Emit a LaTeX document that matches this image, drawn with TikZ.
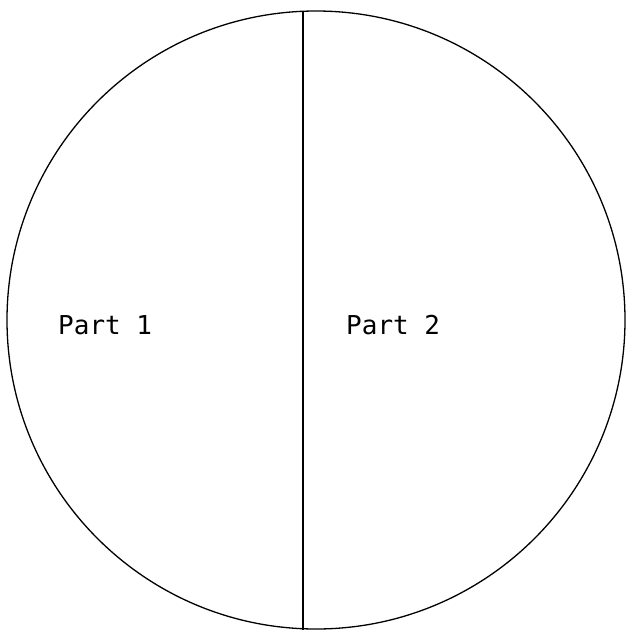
\documentclass[tikz,border=0pt]{standalone}
\usepackage{fontspec}
\newfontfamily\monofont{DejaVu Sans Mono}
\begin{document}
\begin{tikzpicture}[x=1pt,y=-1pt,
  rim/.style={draw=black,line width=1.3pt},
  divider/.style={draw=black,line width=2.6pt},
  partlabel/.style={inner sep=0pt,anchor=base west,font=\monofont\fontsize{26}{30}\selectfont}]
\useasboundingbox (0,0) rectangle (626,630);
\node[circle,rim,minimum size=618pt,inner sep=0pt] (disc) at (316,320) {};
\coordinate (top) at (303,11);
\coordinate (bot) at (303,630);
\draw[divider] (top) -- (bot);
\node[partlabel] (p1) at (58,334) {Part 1};
\node[partlabel] (p2) at (346,334) {Part 2};
\end{tikzpicture}
\end{document}
